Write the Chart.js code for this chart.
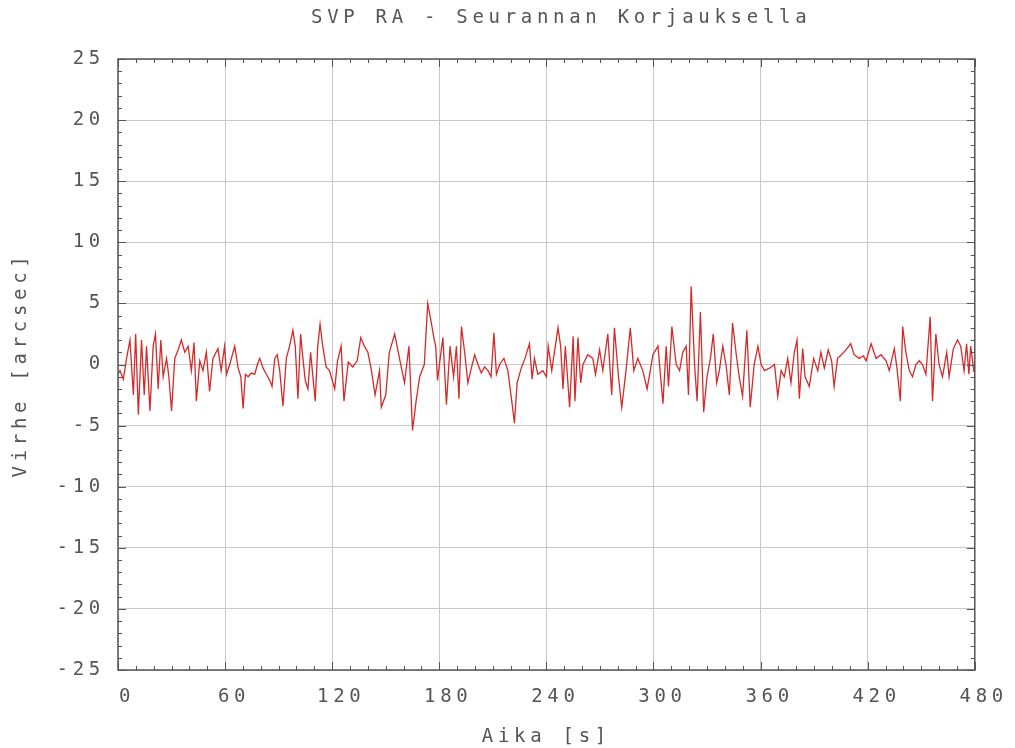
<!DOCTYPE html>
<html lang="fi">
<head>
<meta charset="utf-8">
<title>SVP RA - Seurannan Korjauksella</title>
<script src="https://cdn.jsdelivr.net/npm/chart.js@4.4.1/dist/chart.umd.min.js"></script>
<style>
  html, body { margin: 0; padding: 0; background: #fff; }
  #kaavio { display: block; }
</style>
</head>
<body>
<canvas id="kaavio" width="1015" height="748"></canvas>
<script>
// Mittausajat (s) ja seurantavirhe (arcsec)
const aikaS = [
  0, 1.1, 3, 4.8, 6.7, 8.6, 9.9, 11.4, 13.2, 14.7, 16, 17.9, 19.7, 21, 22.5, 24, 25.3, 27.2, 28.5, 30,
  31.8, 33.7, 35.5, 37.4, 39.3, 41.1, 42.6, 43.9, 45.8, 47.6, 49.5, 51.3, 53.2, 56, 57.8, 59.7,
  60.8, 62.6, 65.4, 67.3, 68.8, 70.1, 71.4, 72.9, 74.7, 76.6, 78.1, 79.4, 81.3, 83.1, 85, 86.3,
  87.8, 89.2, 90.6, 92.4, 94.3, 96.1, 98, 99.3, 100.8, 102.3, 103.6, 104.9, 106.4, 107.9, 109.2,
  110.5, 111.9, 113.2, 114.7, 116.6, 118.5, 121.4, 123, 125, 126.6, 129, 131.5, 134, 136, 138, 140,
  142, 144, 146.5, 147.5, 150, 152, 155, 157.7, 160.5, 163, 165, 167, 169, 171.6, 173.5, 175.4,
  177.2, 178, 179, 180.5, 182, 184, 186, 188, 189.6, 191, 192.4, 194.2, 196, 197.6, 199.8, 201.7,
  203.5, 205.4, 207.3, 209, 210.6, 212, 213.8, 216.2, 218.4, 220.6, 222.1, 223.6, 225.9, 228,
  230.5, 232, 233.3, 235.2, 238, 240, 241, 243, 246.5, 248, 249.3, 250.6, 253, 255, 256, 257.7,
  259.2, 260.5, 263.2, 266, 267.5, 269.8, 271.6, 274.4, 276.6, 278.1, 280.4, 282.2, 284.6, 287,
  289, 291.2, 294, 296.4, 298.2, 299.7, 302.5, 305.3, 307.1, 308.4, 310.3, 312.7, 314.6, 316.4,
  318.3, 319.6, 321.1, 323, 324.4, 326.3, 328.1, 330, 331.9, 333.5, 335.4, 336.9, 338.8, 340.6,
  342.5, 344.3, 346.2, 348, 349.9, 352.3, 354.2, 356.4, 358.5, 360.3, 362.2, 365, 367.8, 369.6,
  371.5, 373.3, 375.2, 377, 378.9, 380.4, 381.7, 383.6, 384.9, 387.3, 389.7, 392, 393.8, 395.7,
  397.9, 399.8, 401.2, 403.1, 405.3, 407.8, 410.5, 412.4, 415.2, 417.6, 419.1, 421.9, 424.7,
  427.5, 430.3, 432.1, 434.9, 436.4, 438.3, 439.6, 441.4, 443.3, 445.1, 447, 448.9, 450.7, 452.6,
  455, 456.3, 458.2, 460, 461.9, 464.3, 465.6, 468, 470.3, 472.1, 474, 475.4, 476.7, 477.7, 479.5
];
const virheArcsec = [
  -0.8, -0.5, -1.2, 0.5, 2.0, -2.5, 2.5, -4.1, 2.0, -2.5, 1.5, -3.8, 1.5, 2.5, -2.0, 2.0, -1.0, 0.5, -1.0, -3.8,
  0.5, 1.2, 2.0, 1.0, 1.5, -0.5, 1.8, -3.0, 0.3, -0.5, 1.0, -2.2, 0.5, 1.3, -0.5, 1.5,
  -0.8, 0, 1.5, -0.3, -1.0, -3.6, -0.8, -1.0, -0.7, -0.8, 0, 0.5, -0.3, -0.8, -1.3, -1.8,
  0.5, 0.8, -0.5, -3.4, 0.5, 1.5, 2.8, 1.5, -2.8, 2.5, 0.5, -1.3, -2.0, 1.0, -1.0,
  -3.0, 1.5, 3.3, 1.5, -0.2, -0.5, -2.0, 0.3, 1.5, -3.0, 0.2, -0.2, 0.3, 2.2, 1.5, 1.0,
  -0.5, -2.5, -0.5, -3.5, -2.5, 1.0, 2.5, 0.5, -1.5, 1.5, -5.4, -3.0, -1.0, 0, 5.0, 3.5,
  2.0, 1.5, -1.3, 0.5, 2.2, -3.3, 1.5, -1.0, 1.5, -2.8, 3.1, 1.0, -1.5, -0.5, 0.8, 0,
  -0.7, -0.2, -0.5, -1.0, 2.6, -0.8, 0, 0.5, -0.5, -3.0, -4.8, -1.5, -0.3, 0.5,
  1.7, -1.2, 0.5, -0.8, -0.5, -1.0, 1.5, -0.5, 3.0, 1.5, -2.0, 1.5, -3.5, 2.3, -3.0, 2.2,
  -1.5, 0, 0.8, 0.5, -0.8, 1.2, -0.5, 2.5, -2.5, 3.0, -1.0, -3.5, -0.5, 3.0,
  -0.5, 0.5, -0.5, -2.0, -0.5, 0.8, 1.5, -3.2, 1.5, -1.8, 3.1, 0, -0.5, 1.0,
  1.5, -2.5, 6.4, 0, -3.0, 4.3, -3.9, -1.0, 0.5, 2.5, -1.5, -0.5, 1.5, 0,
  -2.5, 3.4, 1.0, -1.0, -2.6, 2.8, -3.5, 0, 1.5, 0, -0.5, -0.3, 0, -2.6,
  -0.5, -1.0, 0.5, -1.5, 1.0, 2.0, -2.8, 1.3, -1.0, -1.8, 0.5, -0.5, 1.0, -0.3,
  1.2, 0.3, -1.8, 0.5, 0.8, 1.2, 1.7, 0.8, 0.5, 0.7, 0.3, 1.7, 0.5,
  0.8, 0.3, -0.5, 1.3, -0.3, -3.0, 3.1, 1.0, -0.5, -1.0, 0, 0.3, 0, -0.8,
  3.9, -3.0, 2.5, 0, -1.0, 1.0, -1.0, 1.3, 2.0, 1.5, -0.5, 1.7, -0.8, 1.5, -0.6
];
const xTikit = [0, 60, 120, 180, 240, 300, 360, 420, 480];
const yTikit = [-25, -20, -15, -10, -5, 0, 5, 10, 15, 20, 25];

const otsikko = "SVP RA - Seurannan Korjauksella";
const fontti = { family: "'DejaVu Sans Mono', monospace", size: 19 };
const tekstivari = "#555";
const vali = "4.7px";

// Harva kirjainväli kaikkeen kanvakseen piirrettävään tekstiin
const kirjainvali = {
  id: "kirjainvali",
  beforeLayout(chart) { chart.ctx.letterSpacing = vali; },
  beforeDraw(chart) { chart.ctx.letterSpacing = vali; }
};

// Kehys, sisäänpäin osoittavat väliviivat ja otsikko
const kehys = {
  id: "kehys",
  afterDraw(chart) {
    const { ctx, chartArea: a, scales: { x, y } } = chart;
    ctx.save();
    ctx.strokeStyle = "#555";
    ctx.lineWidth = 1;
    ctx.beginPath();
    for (let t = x.min; t <= x.max; t += 10) {
      const px = Math.round(x.getPixelForValue(t)) + 0.5;
      const pit = t % 60 === 0 ? 8 : 4;
      ctx.moveTo(px, a.bottom); ctx.lineTo(px, a.bottom - pit);
      ctx.moveTo(px, a.top); ctx.lineTo(px, a.top + pit);
    }
    for (let v = y.min; v <= y.max; v += 1) {
      const py = Math.round(y.getPixelForValue(v)) + 0.5;
      const pit = v % 5 === 0 ? 8 : 4;
      ctx.moveTo(a.left, py); ctx.lineTo(a.left + pit, py);
      ctx.moveTo(a.right, py); ctx.lineTo(a.right - pit, py);
    }
    ctx.stroke();
    ctx.lineWidth = 1.5;
    ctx.strokeRect(a.left, a.top, a.right - a.left, a.bottom - a.top);

    ctx.letterSpacing = vali;
    ctx.fillStyle = tekstivari;
    ctx.font = "19px 'DejaVu Sans Mono', monospace";
    ctx.textAlign = "left";
    ctx.textBaseline = "middle";
    ctx.fillText(otsikko, 311, 18);
    ctx.restore();
  }
};

const pisteet = aikaS.map((t, i) => ({ x: t, y: virheArcsec[i] }));

new Chart(document.getElementById("kaavio"), {
  type: "line",
  data: {
    datasets: [{
      data: pisteet,
      borderColor: "#d42a2a",
      borderWidth: 1.3,
      pointRadius: 0,
      tension: 0,
      fill: false
    }]
  },
  options: {
    responsive: false,
    animation: false,
    layout: { padding: { left: 0, right: 37, top: 59, bottom: 0 } },
    plugins: {
      legend: { display: false },
      tooltip: { enabled: false },
      title: { display: false }
    },
    scales: {
      x: {
        type: "linear",
        min: 0,
        max: 480,
        afterBuildTicks: s => { s.ticks = xTikit.map(v => ({ value: v })); },
        afterFit: s => { s.height = 78; },
        grid: { color: "#c8c8c8", drawTicks: false },
        border: { display: false },
        ticks: { font: fontti, color: tekstivari, padding: 16, labelOffset: 9, maxRotation: 0, autoSkip: false },
        title: { display: true, text: "Aika [s]", font: fontti, color: tekstivari, padding: { top: 0, bottom: 0 } }
      },
      y: {
        type: "linear",
        min: -25,
        max: 25,
        afterBuildTicks: s => { s.ticks = yTikit.map(v => ({ value: v })); },
        afterFit: s => { s.width = 118; },
        grid: { color: "#c8c8c8", drawTicks: false },
        border: { display: false },
        ticks: { font: fontti, color: tekstivari, padding: 13, autoSkip: false },
        title: { display: true, text: "Virhe [arcsec]", font: fontti, color: tekstivari, padding: { top: 10, bottom: 0 } }
      }
    }
  },
  plugins: [kirjainvali, kehys]
});
</script>
</body>
</html>
